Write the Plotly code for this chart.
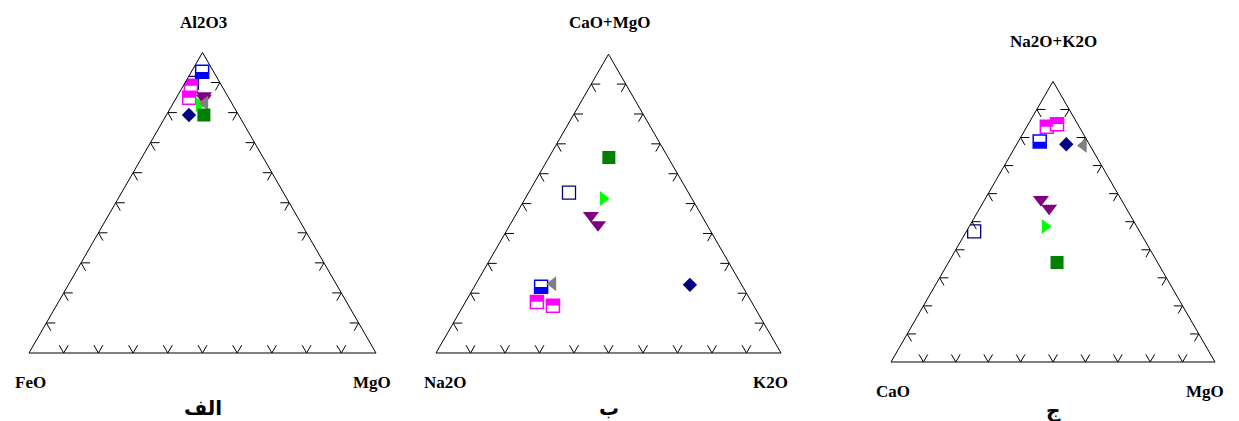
import plotly.graph_objects as go

# ---------------- data (ternary fractions a=top, b=bottom-left, c=bottom-right) ----------------
# Panel الف : Al2O3 / FeO / MgO
alef_blue_half = ([0.936], [0.033], [0.031])
alef_magenta_half = ([0.889, 0.849], [0.089, 0.114], [0.022, 0.037])
alef_navy_open = ([0.899], [0.081], [0.020])
alef_navy_diamond = ([0.792], [0.143], [0.065])
alef_green_square = ([0.792], [0.100], [0.108])
alef_lime_right = ([0.826], [0.097], [0.077])
alef_purple_down = ([0.856, 0.848], [0.068, 0.072], [0.076, 0.080])
alef_gray_left = ([0.832], [0.077], [0.091])

# Panel ب : CaO+MgO / Na2O / K2O
be_blue_half = ([0.222], [0.585], [0.194])
be_magenta_half = ([0.171, 0.158], [0.622, 0.582], [0.207, 0.260])
be_navy_open = ([0.537], [0.346], [0.117])
be_navy_diamond = ([0.228], [0.150], [0.622])
be_green_square = ([0.654], [0.172], [0.174])
be_lime_right = ([0.517], [0.257], [0.226])
be_purple_down = ([0.460, 0.430], [0.321, 0.316], [0.219, 0.255])
be_gray_left = ([0.232], [0.545], [0.223])

# Panel ج : Na2O+K2O / CaO / MgO
jim_blue_half = ([0.786], [0.148], [0.066])
jim_magenta_half = ([0.838, 0.848], [0.100, 0.064], [0.062, 0.089])
jim_navy_open = ([0.466], [0.511], [0.024])
jim_navy_diamond = ([0.776], [0.071], [0.153])
jim_green_square = ([0.355], [0.310], [0.335])
jim_lime_right = ([0.483], [0.283], [0.234])
jim_purple_down = ([0.579, 0.548], [0.248, 0.238], [0.173, 0.214])
jim_gray_left = ([0.772], [0.020], [0.208])

apex_labels = ["Al2O3", "CaO+MgO", "Na2O+K2O"]
left_labels = ["FeO", "Na2O", "CaO"]
right_labels = ["MgO", "K2O", "MgO"]
panel_letters = ["الف", "ب", "ج"]
tick_values = [0.1, 0.2, 0.3, 0.4, 0.5, 0.6, 0.7, 0.8, 0.9]

# page has an 8px body margin: figure is placed at (8, 8)
OFF = 8
W, H = 1239 - OFF, 421 - OFF


def fx(px):
    return (px - OFF) / W


def fy(py):
    return 1 - (py - OFF) / H


# ---------------- helpers ----------------
def tick_trace(subplot, d):
    A, B, C = [], [], []
    for t in tick_values:
        # bottom edge (a = 0): V shape
        A += [d, 0, d, None]; B += [1 - t - d, 1 - t, 1 - t, None]; C += [t, t, t - d, None]
        # left edge (c = 0)
        A += [t, t, t - d, None]; B += [1 - t - d, 1 - t, 1 - t, None]; C += [d, 0, d, None]
        # right edge (b = 0)
        A += [t, t, t - d, None]; B += [d, 0, d, None]; C += [1 - t - d, 1 - t, 1 - t, None]
    return go.Scatterternary(a=A, b=B, c=C, mode="lines", subplot=subplot,
                             line=dict(color="black", width=1), hoverinfo="skip",
                             connectgaps=False)


def pts(data, subplot, **marker):
    a, b, c = data
    return go.Scatterternary(a=a, b=b, c=c, mode="markers", subplot=subplot,
                             marker=marker, hoverinfo="skip")


def half_square(data, subplot, color, bottom):
    out = [pts(data, subplot, symbol="square", size=13, color="white",
               line=dict(color=color, width=1.5))]
    out.append(pts(data, subplot, symbol="line-ew", size=9.3, color=color,
                   angle=0 if bottom else 180, standoff=3.2,
                   line=dict(color=color, width=6)))
    return out


fig = go.Figure()
panels = [
    ("ternary", alef_blue_half, alef_magenta_half, alef_navy_open, alef_navy_diamond,
     alef_green_square, alef_lime_right, alef_purple_down, alef_gray_left, 0.026),
    ("ternary2", be_blue_half, be_magenta_half, be_navy_open, be_navy_diamond,
     be_green_square, be_lime_right, be_purple_down, be_gray_left, 0.026),
    ("ternary3", jim_blue_half, jim_magenta_half, jim_navy_open, jim_navy_diamond,
     jim_green_square, jim_lime_right, jim_purple_down, jim_gray_left, 0.027),
]
for (sp, blue, mag, nopen, ndia, gsq, lime, purp, gray, d) in panels:
    fig.add_trace(tick_trace(sp, d))
    fig.add_trace(pts(nopen, sp, symbol="square-open", size=13, color="#000080",
                      line=dict(color="#000080", width=1.3)))
    for tr in half_square(mag, sp, "#ff00ff", bottom=False):
        fig.add_trace(tr)
    for tr in half_square(blue, sp, "#0000ff", bottom=True):
        fig.add_trace(tr)
    fig.add_trace(pts(ndia, sp, symbol="diamond", size=11, color="#000080"))
    fig.add_trace(pts(lime, sp, symbol="triangle-right", size=13, color="#00ff00"))
    fig.add_trace(pts(purp, sp, symbol="triangle-down", size=14, color="#800080"))
    fig.add_trace(pts(gray, sp, symbol="triangle-left", size=13, color="#808080"))
    fig.add_trace(pts(gsq, sp, symbol="square", size=13, color="#008000"))

axis_style = dict(showline=True, linecolor="black", linewidth=1, showgrid=False,
                  showticklabels=False, ticks="", title=dict(text=""))


def tern(x0, x1, yc_px):
    yc = fy(yc_px)
    return dict(domain=dict(x=[fx(x0), fx(x1)], y=[yc - 0.40, yc + 0.40]),
                bgcolor="white", sum=1,
                aaxis=axis_style, baxis=axis_style, caxis=axis_style)


fig.update_layout(
    width=W, height=H, margin=dict(l=0, r=0, t=0, b=0),
    paper_bgcolor="white", plot_bgcolor="white", showlegend=False,
    ternary=tern(29, 376, 202.75),
    ternary2=tern(436, 781, 203.6),
    ternary3=tern(891, 1215, 221.7),
)

serif = "Liberation Serif, Times New Roman, serif"
label_pos = [
    ((203, 22), (30, 382), (372, 382), (203, 408)),
    ((609, 22), (445, 382), (770, 382), (609, 408)),
    ((1053, 42), (893, 391), (1205, 391), (1053, 410)),
]
for i, (ap, lp, rp, pp) in enumerate(label_pos):
    for txt, (px, py) in ((apex_labels[i], ap), (left_labels[i], lp), (right_labels[i], rp)):
        fig.add_annotation(x=fx(px), y=fy(py), xref="paper", yref="paper",
                           text="<b>" + txt + "</b>", showarrow=False,
                           xanchor="center", yanchor="middle",
                           font=dict(family=serif, size=17, color="black"))
    fig.add_annotation(x=fx(pp[0]), y=fy(pp[1]), xref="paper", yref="paper",
                       text="<b>" + panel_letters[i] + "</b>", showarrow=False,
                       xanchor="center", yanchor="middle",
                       font=dict(family="DejaVu Sans", size=20, color="black"))

fig.write_html("out.html")
